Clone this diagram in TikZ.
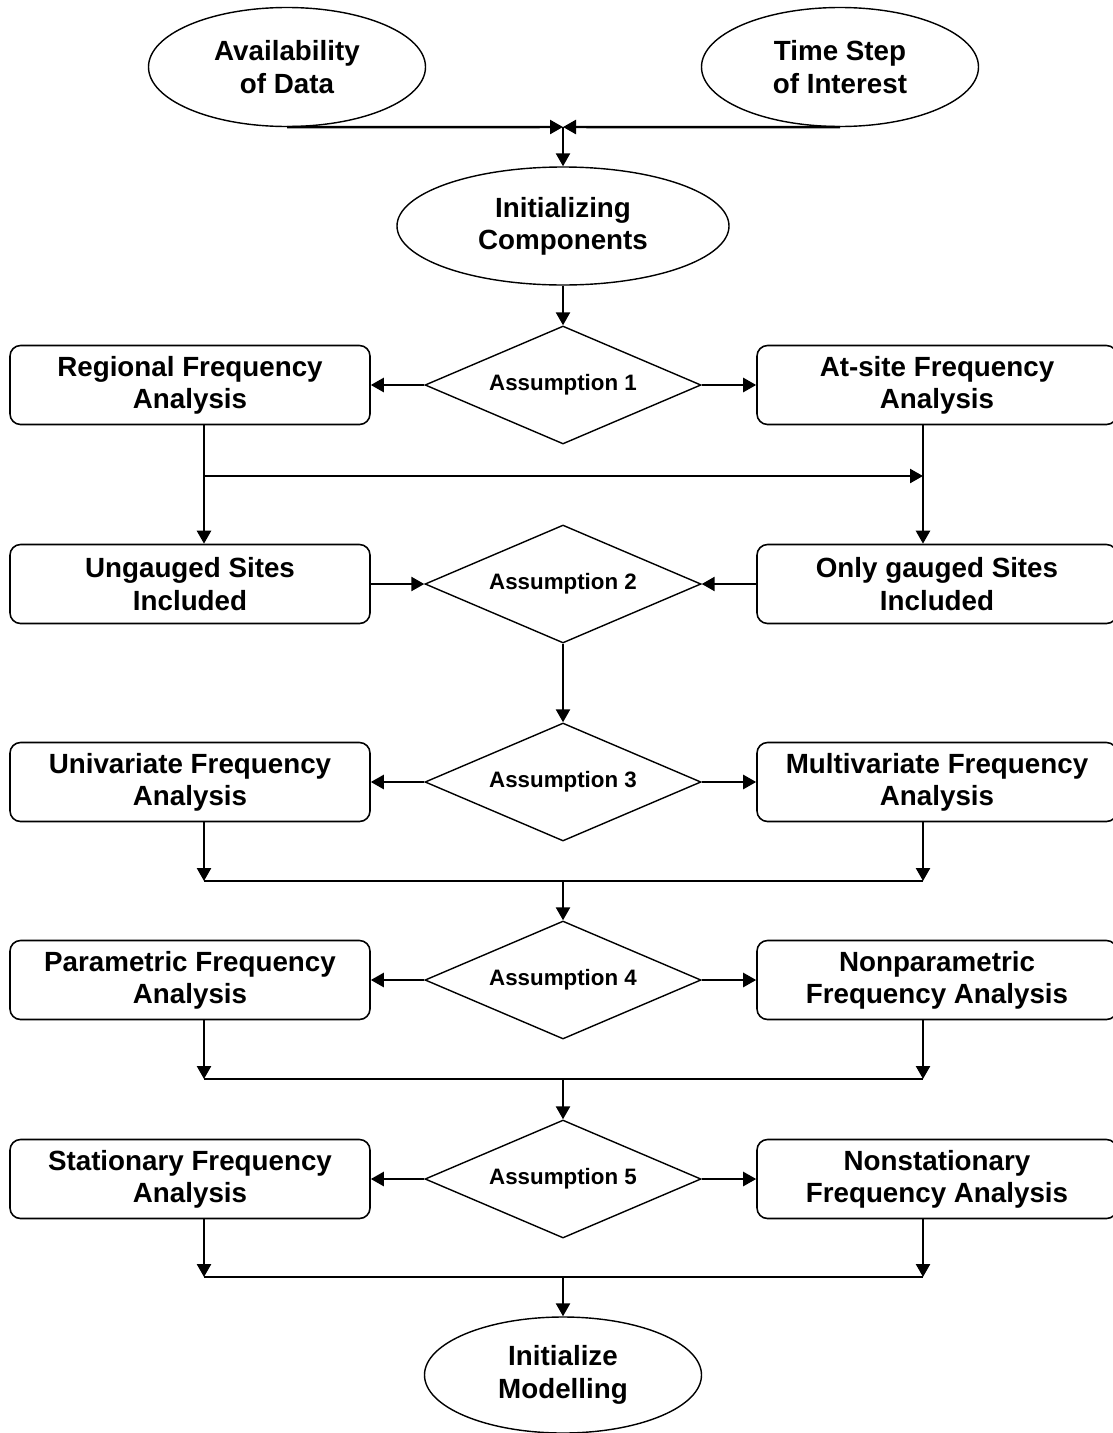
\documentclass[tikz,border=0pt]{standalone}
\usepackage{fontspec}
\setmainfont{Liberation Sans}
\usetikzlibrary{arrows.meta, positioning, shapes.geometric}

\begin{document}
\begin{tikzpicture}[
    >={Triangle[length=0.26cm, width=0.28cm]},
    font=\fontsize{15.8}{18.4}\selectfont\bfseries,
    onode/.style={draw, ellipse, line width=0.8pt, align=center, inner sep=0pt},
    bnode/.style={draw, rounded corners=6pt, line width=0.9pt, align=center,
                  minimum width=7.2cm, minimum height=1.58cm},
    dnode/.style={draw, diamond, aspect=2.34, line width=0.8pt, inner sep=0pt,
                  minimum width=5.52cm, minimum height=2.36cm,
                  font=\fontsize{12.7}{15}\selectfont\bfseries},
    link/.style={line width=1.4pt},
]
\useasboundingbox (0,0) rectangle (22.24,-28.66);

\node[onode, minimum width=5.54cm, minimum height=2.38cm] (avail) at (5.74,-1.34) {Availability\\ of Data};
\node[onode, minimum width=5.54cm, minimum height=2.38cm] (tstep) at (16.80,-1.34) {Time Step\\ of Interest};
\node[onode, minimum width=6.64cm, minimum height=2.36cm] (init) at (11.26,-4.52) {Initializing\\ Components};

\coordinate (top) at (11.26,-2.54);
\draw[->, link] (avail.south) -- (top);
\draw[->, link] (tstep.south) -- (top);
\draw[->, link] (top) -- (init.north);

% assumptions
\node[dnode] (a1) at (11.26,-7.70)  {Assumption 1};
\node[dnode] (a2) at (11.26,-11.68) {Assumption 2};
\node[dnode] (a3) at (11.26,-15.64) {Assumption 3};
\node[dnode] (a4) at (11.26,-19.60) {Assumption 4};
\node[dnode] (a5) at (11.26,-23.58) {Assumption 5};

% left column
\node[bnode] (reg) at (3.80,-7.70)  {Regional Frequency\\ Analysis};
\node[bnode] (ung) at (3.80,-11.68) {Ungauged Sites\\ Included};
\node[bnode] (uni) at (3.80,-15.64) {Univariate Frequency\\ Analysis};
\node[bnode] (par) at (3.80,-19.60) {Parametric Frequency\\ Analysis};
\node[bnode] (sta) at (3.80,-23.58) {Stationary Frequency\\ Analysis};

% right column
\node[bnode] (ats) at (18.74,-7.70)  {At-site Frequency\\ Analysis};
\node[bnode] (ogs) at (18.74,-11.68) {Only gauged Sites\\ Included};
\node[bnode] (mul) at (18.74,-15.64) {Multivariate Frequency\\ Analysis};
\node[bnode] (npa) at (18.74,-19.60) {Nonparametric\\ Frequency Analysis};
\node[bnode] (nst) at (18.74,-23.58) {Nonstationary\\ Frequency Analysis};

\node[onode, minimum width=5.54cm, minimum height=2.32cm] (model) at (11.26,-27.50) {Initialize\\ Modelling};

\draw[->, link] (init.south) -- (a1.north);
\draw[->, link] (a1.west) -- (reg.east);
\draw[->, link] (a1.east) -- (ats.west);

\coordinate (ldrop) at ([xshift=0.28cm]reg.south);
\coordinate (rdrop) at ([xshift=-0.28cm]ats.south);
\draw[->, link] (ldrop) -- (ldrop |- ung.north);
\draw[->, link] (rdrop) -- (rdrop |- ogs.north);
\coordinate (mid1) at (4.08,-9.52);
\draw[->, link] (mid1) -- (mid1 -| rdrop);

\draw[->, link] (ung.east) -- (a2.west);
\draw[->, link] (ogs.west) -- (a2.east);
\draw[->, link] (a2.south) -- (a3.north);

\draw[->, link] (a3.west) -- (uni.east);
\draw[->, link] (a3.east) -- (mul.west);
\draw[->, link] (a4.west) -- (par.east);
\draw[->, link] (a4.east) -- (npa.west);
\draw[->, link] (a5.west) -- (sta.east);
\draw[->, link] (a5.east) -- (nst.west);

% joins below each row
\coordinate (j3) at (11.26,-17.62);
\coordinate (j4) at (11.26,-21.58);
\coordinate (j5) at (11.26,-25.54);

\draw[->, link] ([xshift=0.28cm]uni.south) -- ([xshift=0.28cm]uni.south |- j3);
\draw[->, link] ([xshift=-0.28cm]mul.south) -- ([xshift=-0.28cm]mul.south |- j3);
\draw[link] ([xshift=0.28cm]uni.south |- j3) -- ([xshift=-0.28cm]mul.south |- j3);
\draw[->, link] (j3) -- (a4.north);

\draw[->, link] ([xshift=0.28cm]par.south) -- ([xshift=0.28cm]par.south |- j4);
\draw[->, link] ([xshift=-0.28cm]npa.south) -- ([xshift=-0.28cm]npa.south |- j4);
\draw[link] ([xshift=0.28cm]par.south |- j4) -- ([xshift=-0.28cm]npa.south |- j4);
\draw[->, link] (j4) -- (a5.north);

\draw[->, link] ([xshift=0.28cm]sta.south) -- ([xshift=0.28cm]sta.south |- j5);
\draw[->, link] ([xshift=-0.28cm]nst.south) -- ([xshift=-0.28cm]nst.south |- j5);
\draw[link] ([xshift=0.28cm]sta.south |- j5) -- ([xshift=-0.28cm]nst.south |- j5);
\draw[->, link] (j5) -- (model.north);

\end{tikzpicture}
\end{document}
